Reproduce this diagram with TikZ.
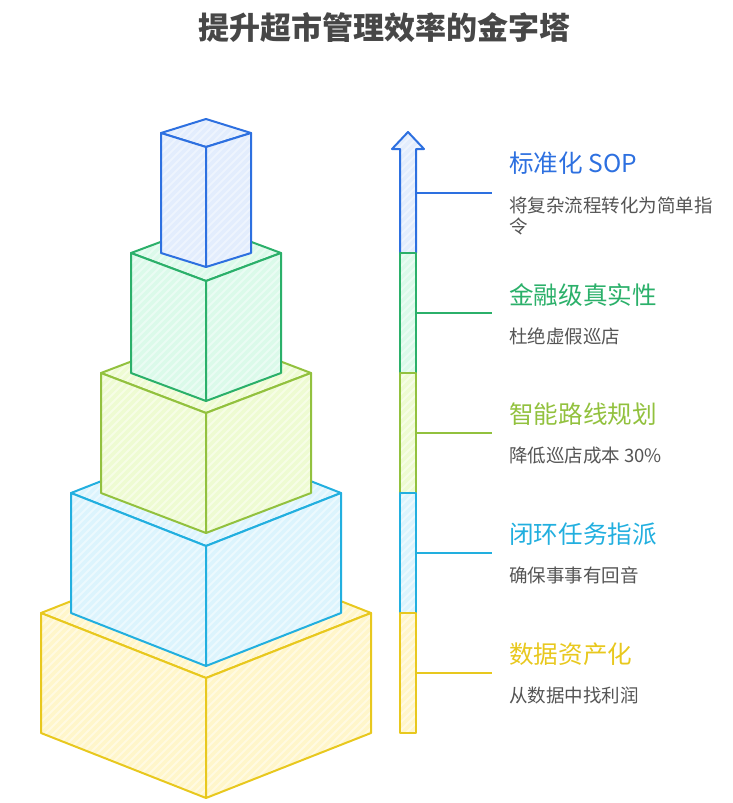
\documentclass[tikz,border=0pt]{standalone}
\usepackage{fontspec}
\setmainfont{Noto Sans CJK SC}
\usetikzlibrary{patterns.meta}
\tikzdeclarepattern{
  name=hstripe,
  type=uncolored,
  bottom left={(-1pt,-1pt)},
  top right={(9pt,9pt)},
  tile size={(8pt,8pt)},
  code={\draw[line width=2pt] (-1pt,-1pt) -- (9pt,9pt);}
}
\definecolor{bluline}{HTML}{2D70E0}\definecolor{blufill}{HTML}{E3EDFD}\definecolor{blustrp}{HTML}{EEF4FE}
\definecolor{grnline}{HTML}{2BB06A}\definecolor{grnfill}{HTML}{DBFAEA}\definecolor{grnstrp}{HTML}{EAFCF3}
\definecolor{limline}{HTML}{92C13E}\definecolor{limfill}{HTML}{EEFBD2}\definecolor{limstrp}{HTML}{F6FDE6}
\definecolor{cyaline}{HTML}{22AFDF}\definecolor{cyafill}{HTML}{DCF4FD}\definecolor{cyastrp}{HTML}{ECF9FE}
\definecolor{yelline}{HTML}{E8C81E}\definecolor{yelfill}{HTML}{FFF6CA}\definecolor{yelstrp}{HTML}{FFFAE2}
\definecolor{titlegrey}{HTML}{474747}
\definecolor{descgrey}{HTML}{555555}
\newcommand\mycube[4]{%
  \path[face=#4] ({206-#2},#1) -- (206,{#1-#3}) -- ({206+#2},#1) -- (206,{#1+#3}) -- cycle;
  \path[face=#4] ({206-#2},#1) -- (206,{#1+#3}) -- (206,{#1+#3+120}) -- ({206-#2},{#1+120}) -- cycle;
  \path[face=#4] ({206+#2},#1) -- (206,{#1+#3}) -- (206,{#1+#3+120}) -- ({206+#2},{#1+120}) -- cycle;
}
\begin{document}
\begin{tikzpicture}[x=1pt,y=-1pt,
  face/.style={draw=#1line, line width=2pt, line join=round,
    preaction={fill=#1fill}, preaction={pattern=hstripe, pattern color=#1strp}},
  seg/.style={face=#1, rectangle, inner sep=0pt, minimum width=16pt, minimum height=120pt},
  conn/.style={draw=#1line, line width=2pt},
  lab/.style={anchor=north west, inner sep=0pt, text=#1line, font=\fontsize{24.6}{28}\selectfont},
  desc/.style={anchor=north west, inner sep=0pt, text=descgrey, align=left, font=\fontsize{18.5}{21}\selectfont}]
\useasboundingbox (0,0) rectangle (732,803);
% title
\node[anchor=north, inner sep=0pt, text=titlegrey, font=\fontsize{31}{34}\selectfont\bfseries] (title) at (384,12) {提升超市管理效率的金字塔};
% pyramid of blocks
\mycube{613}{165}{65}{yel}
\mycube{493}{135}{53}{cya}
\mycube{373}{105}{40}{lim}
\mycube{253}{75}{28}{grn}
\mycube{133}{45}{14}{blu}
% bar with arrow
\path[face=blu] (400,253) -- (400,149) -- (392,149) -- (408,132) -- (424,149) -- (416,149) -- (416,253) -- cycle;
\coordinate (s1) at (416,193);
\node[seg=grn] (s2) at (408,313) {};
\node[seg=lim] (s3) at (408,433) {};
\node[seg=cya] (s4) at (408,553) {};
\node[seg=yel] (s5) at (408,673) {};
\coordinate (e1) at (492,193);
\coordinate (e2) at (492,313);
\coordinate (e3) at (492,433);
\coordinate (e4) at (492,553);
\coordinate (e5) at (492,673);
\draw[conn=blu] (s1) -- (e1);
\draw[conn=grn] (s2.east) -- (e2);
\draw[conn=lim] (s3.east) -- (e3);
\draw[conn=cya] (s4.east) -- (e4);
\draw[conn=yel] (s5.east) -- (e5);
% texts
\node[lab=blu] (l1) at (509,152) {标准化 SOP};
\node[desc] (d1) at (509,197) {将复杂流程转化为简单指\\令};
\node[lab=grn] (l2) at (509,283) {金融级真实性};
\node[desc] (d2) at (509,328) {杜绝虚假巡店};
\node[lab=lim] (l3) at (509,403) {智能路线规划};
\node[desc] (d3) at (509,447) {降低巡店成本 30\%};
\node[lab=cya] (l4) at (509,523) {闭环任务指派};
\node[desc] (d4) at (509,567) {确保事事有回音};
\node[lab=yel] (l5) at (509,643) {数据资产化};
\node[desc] (d5) at (509,687) {从数据中找利润};
\end{tikzpicture}
\end{document}
